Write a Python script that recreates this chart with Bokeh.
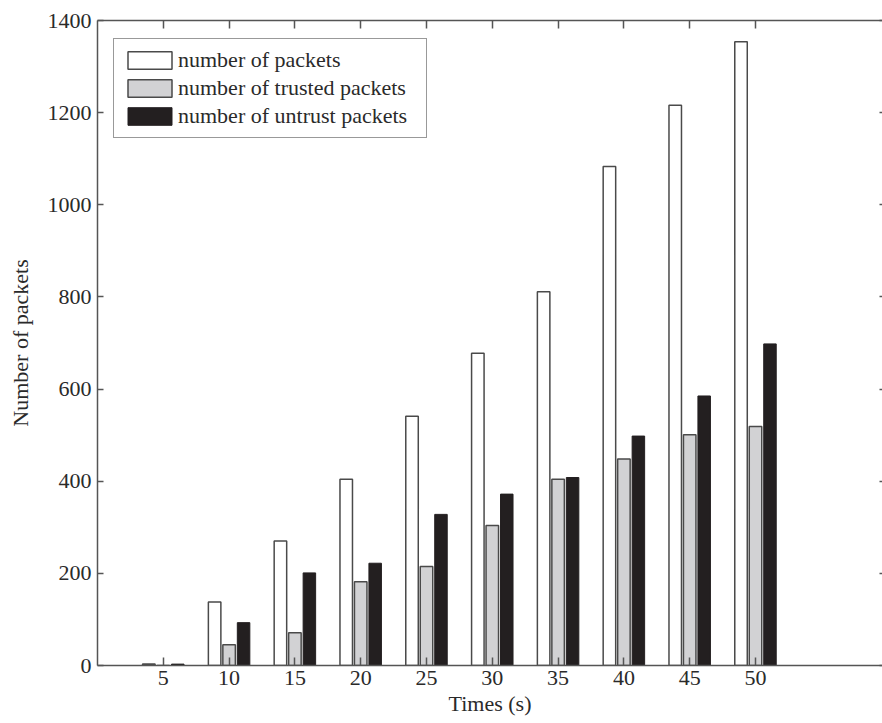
from bokeh.plotting import figure
from bokeh.models import ColumnDataSource, Range1d, LinearAxis, FixedTicker
from bokeh.transform import dodge
from bokeh.embed import file_html
from bokeh.resources import INLINE

times = [5, 10, 15, 20, 25, 30, 35, 40, 45, 50]
total_packets = [3, 138, 270, 404, 541, 678, 811, 1083, 1216, 1354]
trusted_packets = [0, 45, 71, 182, 215, 304, 404, 448, 501, 519]
untrust_packets = [3, 93, 201, 222, 328, 372, 408, 498, 585, 698]
y_ticks = [0, 200, 400, 600, 800, 1000, 1200, 1400]

labels = ["number of packets", "number of trusted packets", "number of untrust packets"]

source = ColumnDataSource(dict(times=times, total=total_packets,
                               trusted=trusted_packets, untrust=untrust_packets))

FONT = "Liberation Serif"
AX = "#555555"

p = figure(width=882, height=723, output_backend="svg", toolbar_location=None,
           x_range=Range1d(0, 59.65), y_range=Range1d(0, 1400),
           min_border_left=97, min_border_right=0, min_border_top=20, min_border_bottom=58)
p.outline_line_color = None
p.xgrid.visible = False
p.ygrid.visible = False
p.background_fill_color = "white"
p.border_fill_color = "white"

bw = 0.95
p.vbar(x=dodge("times", -1.1), top="total", width=bw, source=source,
       fill_color="white", line_color="#4a4a4a", line_width=1.5, legend_label=labels[0])
p.vbar(x=dodge("times", 0.0), top="trusted", width=bw, source=source,
       fill_color="#d2d2d4", line_color="#4a4a4a", line_width=1.5, legend_label=labels[1])
p.vbar(x=dodge("times", 1.1), top="untrust", width=bw, source=source,
       fill_color="#231f20", line_color="#231f20", line_width=1.0, legend_label=labels[2])

def style(ax, tin, labels_on=True):
    ax.axis_line_color = AX
    ax.axis_line_width = 1.5
    ax.major_tick_line_color = AX
    ax.major_tick_line_width = 1.5
    ax.major_tick_in = tin
    ax.major_tick_out = 0
    ax.minor_tick_line_color = None
    ax.major_label_text_font = FONT
    if labels_on:
        ax.major_label_text_color = "#2a2a2a"
        ax.major_label_text_font_size = "22px"
    else:
        ax.major_label_text_color = None
        ax.major_label_text_font_size = "0px"
        ax.major_label_standoff = 0

xax = p.xaxis[0]
xax.ticker = FixedTicker(ticks=times)
style(xax, 8)
xax.major_label_standoff = 5
xax.axis_label = "Times (s)"
xax.axis_label_text_font = FONT
xax.axis_label_text_font_style = "normal"
xax.axis_label_text_font_size = "22px"
xax.axis_label_text_color = "#2a2a2a"
xax.axis_label_standoff = 3

yax = p.yaxis[0]
yax.ticker = FixedTicker(ticks=y_ticks)
style(yax, 6)
yax.major_label_standoff = 6
yax.axis_label = "Number of packets"
yax.axis_label_text_font = FONT
yax.axis_label_text_font_style = "normal"
yax.axis_label_text_font_size = "22px"
yax.axis_label_text_color = "#2a2a2a"
yax.axis_label_standoff = 12

top_ax = LinearAxis(ticker=FixedTicker(ticks=times))
style(top_ax, 8, labels_on=False)
p.add_layout(top_ax, "above")

right_ax = LinearAxis(ticker=FixedTicker(ticks=y_ticks))
style(right_ax, 3, labels_on=False)
right_ax.axis_line_color = None
p.add_layout(right_ax, "right")

lg = p.legend[0]
lg.location = (16, 527)
lg.margin = 0
lg.padding = 8
lg.spacing = 2
lg.glyph_width = 55
lg.glyph_height = 22
lg.label_standoff = 1
lg.label_width = 240
lg.label_text_font = FONT
lg.label_text_font_size = "22px"
lg.label_text_color = "#2a2a2a"
lg.border_line_color = "#333333"
lg.border_line_width = 1.5
lg.background_fill_alpha = 1.0

open("out.html", "w").write(file_html(p, INLINE))
